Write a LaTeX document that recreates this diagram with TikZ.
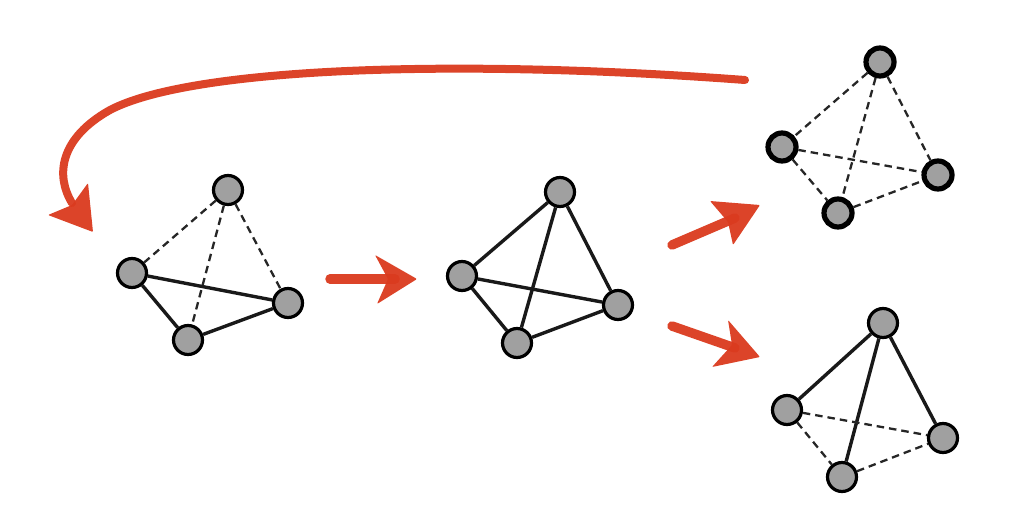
\documentclass[tikz,border=0pt]{standalone}
\definecolor{crayon}{RGB}{218,58,30}
\definecolor{nodegray}{RGB}{160,160,160}
\tikzset{
  vert/.style={circle,draw=black,fill=nodegray,line width=3.2pt,minimum size=29pt,inner sep=0pt},
  vertbold/.style={vert,line width=5.2pt,minimum size=28pt},
  solidedge/.style={line width=3.4pt,black!90},
  dashedge/.style={line width=2.3pt,black!85,dash pattern=on 7.5pt off 5pt},
  crayonline/.style={draw=crayon,line width=9.5pt,line cap=round,opacity=0.95},
  crayonhead/.style={fill=crayon,opacity=0.95,rounded corners=1pt}
}
\begin{document}
\begin{tikzpicture}[x=1pt,y=-1pt]
\useasboundingbox (0,0) rectangle (1024,527);
% Graph 1
\node[vert] (a1) at (228,190) {};
\node[vert] (b1) at (132,273) {};
\node[vert] (c1) at (288,303) {};
\node[vert] (d1) at (188,340) {};
\draw[dashedge] (a1) -- (b1);
\draw[dashedge] (a1) -- (c1);
\draw[dashedge] (a1) -- (d1);
\draw[solidedge] (b1) -- (c1);
\draw[solidedge] (b1) -- (d1);
\draw[solidedge] (d1) -- (c1);
% Graph 2
\node[vert] (a2) at (560,192) {};
\node[vert] (b2) at (462,276) {};
\node[vert] (c2) at (618,305) {};
\node[vert] (d2) at (517,343) {};
\draw[solidedge] (a2) -- (b2);
\draw[solidedge] (a2) -- (c2);
\draw[solidedge] (a2) -- (d2);
\draw[solidedge] (b2) -- (c2);
\draw[solidedge] (b2) -- (d2);
\draw[solidedge] (d2) -- (c2);
% Graph 3
\node[vertbold] (a3) at (880,62) {};
\node[vertbold] (b3) at (782,147) {};
\node[vertbold] (c3) at (938,175) {};
\node[vertbold] (d3) at (838,213) {};
\draw[dashedge] (a3) -- (b3);
\draw[dashedge] (a3) -- (c3);
\draw[dashedge] (a3) -- (d3);
\draw[dashedge] (b3) -- (c3);
\draw[dashedge] (b3) -- (d3);
\draw[dashedge] (d3) -- (c3);
% Graph 4
\node[vert] (a4) at (883,323) {};
\node[vert] (b4) at (787,410) {};
\node[vert] (c4) at (943,438) {};
\node[vert] (d4) at (842,477) {};
\draw[solidedge] (a4) -- (b4);
\draw[solidedge] (a4) -- (c4);
\draw[solidedge] (a4) -- (d4);
\draw[dashedge] (b4) -- (c4);
\draw[dashedge] (b4) -- (d4);
\draw[dashedge] (d4) -- (c4);
% Arrows
\coordinate (s1) at (330,279);
\coordinate (e1) at (395,279);
\draw[crayonline] (s1) -- (e1);
\fill[crayonhead] (375,255) -- (417,279) -- (377,304) -- (388,279) -- cycle;
\coordinate (s2) at (672,245);
\coordinate (e2) at (735,218);
\draw[crayonline] (s2) -- (e2);
\fill[crayonhead] (710,201) -- (760,205) -- (733,245) -- (728,222) -- cycle;
\coordinate (s3) at (672,326);
\coordinate (e3) at (735,348);
\draw[crayonline] (s3) -- (e3);
\fill[crayonhead] (728,320) -- (760,357) -- (712,367) -- (732,345) -- cycle;
\coordinate (s4) at (745,80);
\coordinate (e4) at (72,203);
\draw[crayonline,line width=8pt] (s4) .. controls (450,58) and (190,68) .. (110,110) .. controls (60,138) and (55,175) .. (e4);
\fill[crayonhead] (88,183) -- (93,232) -- (48,215) -- (72,205) -- cycle;
\end{tikzpicture}
\end{document}
